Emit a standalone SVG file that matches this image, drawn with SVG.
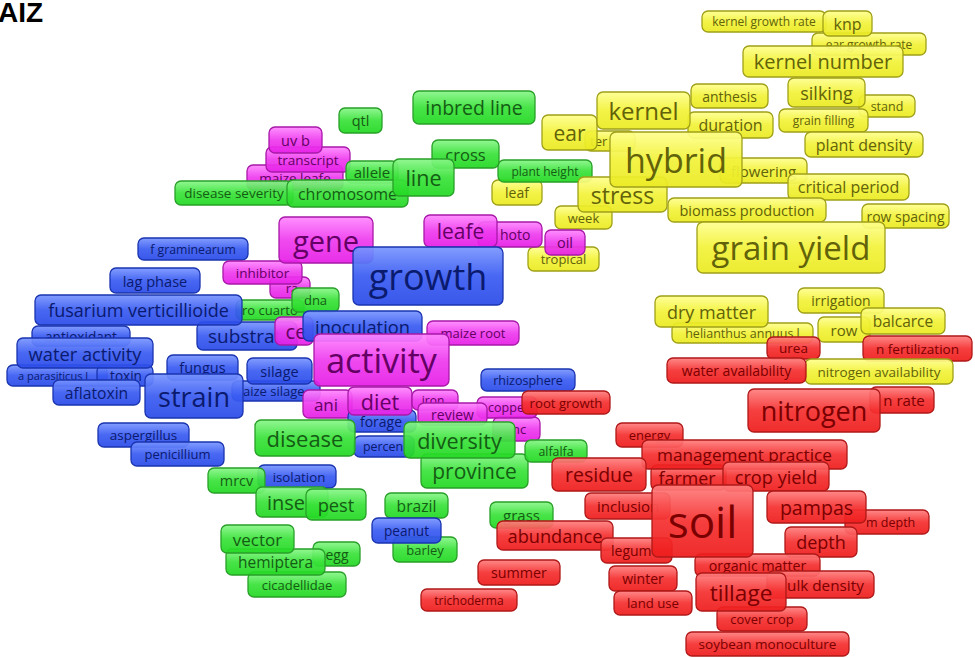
<svg xmlns="http://www.w3.org/2000/svg" width="975" height="658" viewBox="0 0 975 658">
<defs>
<linearGradient id="gr" x1="0" y1="0" x2="0" y2="1"><stop offset="0" stop-color="#ff8080"/><stop offset="0.5" stop-color="#f53030"/><stop offset="1" stop-color="#ee1c1c"/></linearGradient>
<linearGradient id="gg" x1="0" y1="0" x2="0" y2="1"><stop offset="0" stop-color="#8af78a"/><stop offset="0.5" stop-color="#3ae23a"/><stop offset="1" stop-color="#22d822"/></linearGradient>
<linearGradient id="gb" x1="0" y1="0" x2="0" y2="1"><stop offset="0" stop-color="#7a96ff"/><stop offset="0.5" stop-color="#3a5cf2"/><stop offset="1" stop-color="#2a4be8"/></linearGradient>
<linearGradient id="gm" x1="0" y1="0" x2="0" y2="1"><stop offset="0" stop-color="#ff88ff"/><stop offset="0.5" stop-color="#ee3cee"/><stop offset="1" stop-color="#e61ee6"/></linearGradient>
<linearGradient id="gy" x1="0" y1="0" x2="0" y2="1"><stop offset="0" stop-color="#ffff90"/><stop offset="0.5" stop-color="#f2f23a"/><stop offset="1" stop-color="#eaea22"/></linearGradient>
</defs>
<style>
rect{rx:6px;ry:6px;stroke-width:1.3;fill-opacity:0.93}
text{font-family:"Open Sans","DejaVu Sans",sans-serif;text-anchor:middle;dominant-baseline:central}
text.s{text-anchor:start}
.r rect{fill:url(#gr);stroke:#b01818}
.r text{fill:#7a0000}
.g rect{fill:url(#gg);stroke:#28a028}
.g text{fill:#145c14}
.b rect{fill:url(#gb);stroke:#1a34b0}
.b text{fill:#0a1a6e}
.m rect{fill:url(#gm);stroke:#a818a8}
.m text{fill:#640064}
.y rect{fill:url(#gy);stroke:#a0a018}
.y text{fill:#62620a}
.title{font-family:"Liberation Sans",Arial,sans-serif;font-weight:bold;font-size:28px;fill:#000;text-anchor:start;dominant-baseline:auto}
</style>
<rect width="975" height="658" fill="#fff" style="fill-opacity:1;stroke:none;rx:0;ry:0"/>
<text class="title" x="-2" y="22">AIZ</text>
<g id="connectors"/>
<g id="nodes">
<!-- yellow top -->
<g id="n-kernel-growth-rate" class="y"><rect x="702" y="11" width="124" height="21"/><text x="764" y="21.5" font-size="12">kernel growth rate</text></g>
<g id="n-ear-growth-rate" class="y"><rect x="812" y="33" width="114" height="22"/><text x="869" y="44" font-size="12">ear growth rate</text></g>
<g id="n-knp" class="y"><rect x="823" y="11" width="49" height="25"/><text x="847.5" y="23.5" font-size="16">knp</text></g>
<g id="n-kernel-number" class="y"><rect x="743" y="46" width="160" height="31"/><text x="823" y="61.5" font-size="20">kernel number</text></g>
<g id="n-stand" class="y"><rect x="859" y="95" width="56" height="22"/><text x="887" y="106" font-size="12.5">stand</text></g>
<g id="n-silking" class="y"><rect x="788" y="78" width="77" height="29"/><text x="826.5" y="92.5" font-size="18">silking</text></g>
<g id="n-anthesis" class="y"><rect x="691" y="84" width="77" height="24"/><text x="729.5" y="96" font-size="14">anthesis</text></g>
<g id="n-duration" class="y"><rect x="688" y="112" width="85" height="26"/><text x="730.5" y="125" font-size="16">duration</text></g>
<g id="n-grain-filling" class="y"><rect x="779" y="109" width="89" height="23"/><text x="823.5" y="120.5" font-size="12">grain filling</text></g>
<g id="n-plant-density" class="y"><rect x="805" y="132" width="118" height="25"/><text x="864" y="144.5" font-size="16">plant density</text></g>
<g id="n-flowering" class="y"><rect x="720" y="158" width="87" height="25"/><text x="763.5" y="170.5" font-size="15">flowering</text></g>
<g id="n-critical-period" class="y"><rect x="788" y="174" width="121" height="26"/><text x="848.5" y="187" font-size="16">critical period</text></g>
<g id="n-biomass-production" class="y"><rect x="668" y="198" width="158" height="24"/><text x="747" y="210" font-size="14.5">biomass production</text></g>
<g id="n-row-spacing" class="y"><rect x="862" y="204" width="87" height="24"/><text x="905.5" y="216" font-size="14">row spacing</text></g>
<g id="n-ter" class="y"><rect x="585" y="131" width="50" height="20"/><text class="s" x="590" y="141" font-size="13">ter</text></g>
<g id="n-ear" class="y"><rect x="542" y="115" width="55" height="35"/><text x="569.5" y="132.5" font-size="21">ear</text></g>
<g id="n-kernel" class="y"><rect x="597" y="92" width="93" height="37"/><text x="643.5" y="110.5" font-size="24">kernel</text></g>
<g id="n-leaf" class="y"><rect x="492" y="180" width="50" height="25"/><text x="517" y="192.5" font-size="14">leaf</text></g>
<g id="n-plant-height" class="g"><rect x="498" y="160" width="94" height="22"/><text x="545" y="171" font-size="12">plant height</text></g>
<g id="n-week" class="y"><rect x="555" y="206" width="57" height="23"/><text x="583.5" y="217.5" font-size="13">week</text></g>
<g id="n-tropical" class="y"><rect x="528" y="247" width="71" height="24"/><text x="563.5" y="259" font-size="13">tropical</text></g>
<g id="n-oil" class="m"><rect x="545" y="230" width="40" height="25"/><text x="565" y="242.5" font-size="14.5">oil</text></g>
<g id="n-stress" class="y"><rect x="578" y="177" width="89" height="35"/><text x="622.5" y="194.5" font-size="23">stress</text></g>
<g id="n-hybrid" class="y"><rect x="610" y="132" width="132" height="55"/><text x="676" y="159.5" font-size="34">hybrid</text></g>
<g id="n-grain-yield" class="y"><rect x="697" y="222" width="188" height="51"/><text x="791" y="247.5" font-size="33">grain yield</text></g>
<!-- yellow / red right middle -->
<g id="n-helianthus-annuus-l" class="y"><rect x="672" y="323" width="141" height="20"/><text x="742.5" y="333" font-size="12.5">helianthus annuus l</text></g>
<g id="n-dry-matter" class="y"><rect x="655" y="296" width="113" height="31"/><text x="711.5" y="311.5" font-size="18">dry matter</text></g>
<g id="n-irrigation" class="y"><rect x="798" y="288" width="86" height="25"/><text x="841" y="300.5" font-size="14">irrigation</text></g>
<g id="n-row" class="y"><rect x="818" y="317" width="52" height="25"/><text x="844" y="329.5" font-size="15">row</text></g>
<g id="n-balcarce" class="y"><rect x="861" y="308" width="84" height="26"/><text x="903" y="321" font-size="15.5">balcarce</text></g>
<g id="n-urea" class="r"><rect x="767" y="337" width="53" height="22"/><text x="793.5" y="348" font-size="13.5">urea</text></g>
<g id="n-n-fertilization" class="r"><rect x="863" y="336" width="109" height="25"/><text x="917.5" y="348.5" font-size="13.5">n fertilization</text></g>
<g id="n-nitrogen-availability" class="y"><rect x="805" y="359" width="148" height="25"/><text x="879" y="371.5" font-size="13.5">nitrogen availability</text></g>
<g id="n-water-availability" class="r"><rect x="667" y="358" width="139" height="25"/><text x="736.5" y="370.5" font-size="14">water availability</text></g>
<g id="n-n-rate" class="r"><rect x="870" y="387" width="64" height="26"/><text x="904" y="400" font-size="15">n rate</text></g>
<g id="n-nitrogen" class="r"><rect x="748" y="389" width="132" height="43"/><text x="814" y="410.5" font-size="27">nitrogen</text></g>
<!-- top green / magenta -->
<g id="n-maize-leafe" class="m"><rect x="247" y="165" width="96" height="25"/><text x="295" y="177.5" font-size="13.5">maize leafe</text></g>
<g id="n-transcript" class="m"><rect x="266" y="147" width="84" height="25"/><text x="308" y="159.5" font-size="13.5">transcript</text></g>
<g id="n-uv-b" class="m"><rect x="269" y="127" width="53" height="26"/><text x="295.5" y="140" font-size="14.5">uv b</text></g>
<g id="n-disease-severity" class="g"><rect x="175" y="181" width="118" height="24"/><text x="234" y="193" font-size="13.5">disease severity</text></g>
<g id="n-allele" class="g"><rect x="346" y="161" width="52" height="22"/><text x="372" y="172" font-size="15">allele</text></g>
<g id="n-chromosome" class="g"><rect x="287" y="180" width="121" height="27"/><text x="347.5" y="193.5" font-size="16">chromosome</text></g>
<g id="n-qtl" class="g"><rect x="339" y="108" width="43" height="25"/><text x="360.5" y="120.5" font-size="14.5">qtl</text></g>
<g id="n-inbred-line" class="g"><rect x="413" y="91" width="122" height="33"/><text x="474" y="107.5" font-size="19.5">inbred line</text></g>
<g id="n-cross" class="g"><rect x="432" y="140" width="67" height="28"/><text x="465.5" y="154" font-size="16.5">cross</text></g>
<g id="n-line" class="g"><rect x="393" y="159" width="61" height="37"/><text x="423.5" y="177.5" font-size="21.5">line</text></g>
<!-- left blue -->
<g id="n-f-graminearum" class="b"><rect x="138" y="238" width="110" height="22"/><text x="193" y="249" font-size="12.3">f graminearum</text></g>
<g id="n-lag-phase" class="b"><rect x="110" y="268" width="90" height="25"/><text x="155" y="280.5" font-size="14.6">lag phase</text></g>
<g id="n-inhibitor" class="m"><rect x="270" y="277" width="40" height="21"/><text x="292" y="287.5" font-size="13">ra</text></g>
<g id="n-inhibitor2" class="m"><rect x="223" y="261" width="79" height="23"/><text x="262.5" y="272.5" font-size="13.5">inhibitor</text></g>
<g id="n-ro-cuarto" class="g"><rect x="236" y="300" width="68" height="20"/><text class="s" x="242" y="310" font-size="13">ro cuarto</text></g>
<g id="n-dna" class="g"><rect x="292" y="288" width="47" height="24"/><text x="315.5" y="300" font-size="13">dna</text></g>
<g id="n-antioxidant" class="b"><rect x="32" y="326" width="98" height="20"/><text x="81" y="336" font-size="13.6">antioxidant</text></g>
<g id="n-substrat" class="b"><rect x="197" y="322" width="100" height="28"/><text class="s" x="208" y="336" font-size="19">substrat</text></g>
<g id="n-fusarium-verticillioide" class="b"><rect x="35" y="295" width="207" height="30"/><text x="138.5" y="310" font-size="18">fusarium verticillioide</text></g>
<g id="n-a-parasiticus-l" class="b"><rect x="7" y="365" width="100" height="21"/><text x="53" y="375.5" font-size="11">a parasiticus l</text></g>
<g id="n-toxin" class="b"><rect x="97" y="365" width="56" height="21"/><text x="126" y="375.5" font-size="13.6">toxin</text></g>
<g id="n-water-activity" class="b"><rect x="17" y="338" width="136" height="30"/><text x="85" y="353" font-size="18.3">water activity</text></g>
<g id="n-aflatoxin" class="b"><rect x="53" y="380" width="87" height="25"/><text x="96.5" y="392.5" font-size="15.7">aflatoxin</text></g>
<g id="n-fungus" class="b"><rect x="167" y="355" width="71" height="25"/><text x="202.5" y="367.5" font-size="14.5">fungus</text></g>
<g id="n-maize-silage" class="b"><rect x="232" y="381" width="88" height="20"/><text class="s" x="243" y="391" font-size="13">aize silage</text></g>
<g id="n-silage" class="b"><rect x="247" y="358" width="65" height="26"/><text x="279.5" y="371" font-size="14.5">silage</text></g>
<g id="n-strain" class="b"><rect x="145" y="374" width="98" height="44"/><text x="194" y="396" font-size="27">strain</text></g>
<g id="n-ce" class="m"><rect x="275" y="317" width="38" height="28"/><text x="296" y="331" font-size="20">ce</text></g>
<g id="n-inoculation" class="b"><rect x="303" y="311" width="119" height="30"/><text x="362.5" y="326" font-size="18.3">inoculation</text></g>
<g id="n-gene" class="m"><rect x="279" y="217" width="94" height="46"/><text x="326" y="240" font-size="29">gene</text></g>
<g id="n-hoto" class="m"><rect x="478" y="222" width="64" height="25"/><text class="s" x="500" y="234.5" font-size="14">hoto</text></g>
<g id="n-leafe" class="m"><rect x="424" y="215" width="73" height="32"/><text x="460.5" y="231" font-size="21">leafe</text></g>
<g id="n-growth" class="b"><rect x="353" y="247" width="150" height="58"/><text x="428" y="276" font-size="36">growth</text></g>
<g id="n-maize-root" class="m"><rect x="427" y="321" width="92" height="24"/><text x="473" y="333" font-size="13">maize root</text></g>
<g id="n-activity" class="m"><rect x="314" y="334" width="135" height="52"/><text x="381.5" y="360" font-size="34">activity</text></g>
<g id="n-ani" class="m"><rect x="303" y="390" width="49" height="28"/><text x="326" y="404" font-size="17">ani</text></g>
<g id="n-percen" class="b"><rect x="354" y="436" width="60" height="21"/><text class="s" x="363" y="446.5" font-size="12.4">percen</text></g>
<g id="n-forage" class="b"><rect x="348" y="410" width="68" height="22"/><text x="381" y="421" font-size="14">forage</text></g>
<g id="n-diet" class="m"><rect x="348" y="387" width="64" height="28"/><text x="380" y="401" font-size="21.5">diet</text></g>
<g id="n-disease" class="g"><rect x="255" y="420" width="100" height="36"/><text x="305" y="438" font-size="22">disease</text></g>
<g id="n-iron" class="m"><rect x="412" y="390" width="46" height="20"/><text x="433" y="400" font-size="12">iron</text></g>
<g id="n-nc" class="m"><rect x="493" y="417" width="47" height="24"/><text class="s" x="512" y="429" font-size="13">nc</text></g>
<g id="n-coppe" class="m"><rect x="477" y="397" width="60" height="21"/><text x="506" y="407.5" font-size="12.5">coppe</text></g>
<g id="n-review" class="m"><rect x="418" y="403" width="69" height="22"/><text x="452.5" y="414" font-size="14">review</text></g>
<g id="n-rhizosphere" class="b"><rect x="481" y="369" width="94" height="22"/><text x="528" y="380" font-size="12.5">rhizosphere</text></g>
<g id="n-root-growth" class="r"><rect x="522" y="391" width="88" height="23"/><text x="566" y="402.5" font-size="13.2">root growth</text></g>
<g id="n-province" class="g"><rect x="421" y="454" width="107" height="34"/><text x="474.5" y="471" font-size="21">province</text></g>
<g id="n-diversity" class="g"><rect x="404" y="422" width="111" height="36"/><text x="459.5" y="440" font-size="21.6">diversity</text></g>
<g id="n-alfalfa" class="g"><rect x="525" y="440" width="62" height="22"/><text x="556" y="451" font-size="12.3">alfalfa</text></g>
<!-- bottom left -->
<g id="n-aspergillus" class="b"><rect x="98" y="423" width="91" height="24"/><text x="143.5" y="435" font-size="13.5">aspergillus</text></g>
<g id="n-penicillium" class="b"><rect x="131" y="442" width="93" height="24"/><text x="177.5" y="454" font-size="13">penicillium</text></g>
<g id="n-isolation" class="b"><rect x="258" y="465" width="78" height="23"/><text x="299" y="476.5" font-size="13.3">isolation</text></g>
<g id="n-mrcv" class="g"><rect x="208" y="468" width="57" height="25"/><text x="236.5" y="480.5" font-size="14.4">mrcv</text></g>
<g id="n-inse" class="g"><rect x="256" y="487" width="72" height="30"/><text class="s" x="267" y="502" font-size="20">inse</text></g>
<g id="n-pest" class="g"><rect x="306" y="489" width="60" height="31"/><text x="336" y="504.5" font-size="18.3">pest</text></g>
<g id="n-cicadellidae" class="g"><rect x="248" y="572" width="98" height="25"/><text x="297" y="584.5" font-size="13">cicadellidae</text></g>
<g id="n-egg" class="g"><rect x="313" y="542" width="47" height="24"/><text x="337" y="554" font-size="14">egg</text></g>
<g id="n-hemiptera" class="g"><rect x="226" y="549" width="99" height="26"/><text x="275.5" y="562" font-size="15.5">hemiptera</text></g>
<g id="n-vector" class="g"><rect x="221" y="525" width="73" height="28"/><text x="257.5" y="539" font-size="17">vector</text></g>
<g id="n-brazil" class="g"><rect x="385" y="493" width="63" height="25"/><text x="416.5" y="505.5" font-size="15.6">brazil</text></g>
<g id="n-barley" class="g"><rect x="393" y="537" width="64" height="25"/><text x="425" y="549.5" font-size="13">barley</text></g>
<g id="n-peanut" class="b"><rect x="372" y="518" width="69" height="25"/><text x="406.5" y="530.5" font-size="13.6">peanut</text></g>
<g id="n-grass" class="g"><rect x="490" y="502" width="63" height="26"/><text x="521.5" y="515" font-size="15">grass</text></g>
<g id="n-abundance" class="r"><rect x="497" y="521" width="116" height="29"/><text x="555" y="535.5" font-size="18.2">abundance</text></g>
<g id="n-summer" class="r"><rect x="478" y="560" width="82" height="25"/><text x="519" y="572.5" font-size="14.3">summer</text></g>
<g id="n-trichoderma" class="r"><rect x="421" y="589" width="96" height="22"/><text x="469" y="600" font-size="12">trichoderma</text></g>
<!-- red bottom right -->
<g id="n-energy" class="r"><rect x="616" y="423" width="67" height="24"/><text x="649.5" y="435" font-size="13">energy</text></g>
<g id="n-farmer" class="r"><rect x="651" y="465" width="75" height="25"/><text x="687" y="477.5" font-size="17.8">farmer</text></g>
<g id="n-management-practice" class="r"><rect x="642" y="440" width="205" height="29"/><text x="744.5" y="454.5" font-size="17.2">management practice</text></g>
<g id="n-crop-yield" class="r"><rect x="723" y="462" width="106" height="29"/><text x="776" y="476.5" font-size="18.2">crop yield</text></g>
<g id="n-residue" class="r"><rect x="552" y="458" width="94" height="33"/><text x="599" y="474.5" font-size="19.5">residue</text></g>
<g id="n-inclusion" class="r"><rect x="585" y="493" width="85" height="26"/><text class="s" x="597" y="506" font-size="15">inclusion</text></g>
<g id="n-legum" class="r"><rect x="601" y="538" width="71" height="25"/><text class="s" x="611" y="550.5" font-size="14">legum</text></g>
<g id="n-cm-depth" class="r"><rect x="845" y="510" width="84" height="24"/><text class="s" x="866" y="522" font-size="12.5">m depth</text></g>
<g id="n-pampas" class="r"><rect x="767" y="491" width="99" height="32"/><text x="816.5" y="507" font-size="19.6">pampas</text></g>
<g id="n-depth" class="r"><rect x="785" y="527" width="72" height="30"/><text x="821" y="542" font-size="18">depth</text></g>
<g id="n-organic-matter" class="r"><rect x="695" y="554" width="125" height="22"/><text x="757.5" y="565" font-size="14.2">organic matter</text></g>
<g id="n-bulk-density" class="r"><rect x="767" y="571" width="107" height="27"/><text class="s" x="787" y="584.5" font-size="15.3">ulk density</text></g>
<g id="n-winter" class="r"><rect x="609" y="566" width="68" height="25"/><text x="643" y="578.5" font-size="14">winter</text></g>
<g id="n-land-use" class="r"><rect x="614" y="591" width="78" height="24"/><text x="653" y="603" font-size="13.2">land use</text></g>
<g id="n-soybean-monoculture" class="r"><rect x="686" y="632" width="163" height="24"/><text x="767.5" y="644" font-size="13.5">soybean monoculture</text></g>
<g id="n-cover-crop" class="r"><rect x="717" y="607" width="90" height="24"/><text x="762" y="619" font-size="12.9">cover crop</text></g>
<g id="n-tillage" class="r"><rect x="696" y="573" width="90" height="38"/><text x="741" y="592" font-size="22.6">tillage</text></g>
<g id="n-soil" class="r"><rect x="652" y="485" width="101" height="72"/><text x="702.5" y="521" font-size="44">soil</text></g>
</g>
</svg>
